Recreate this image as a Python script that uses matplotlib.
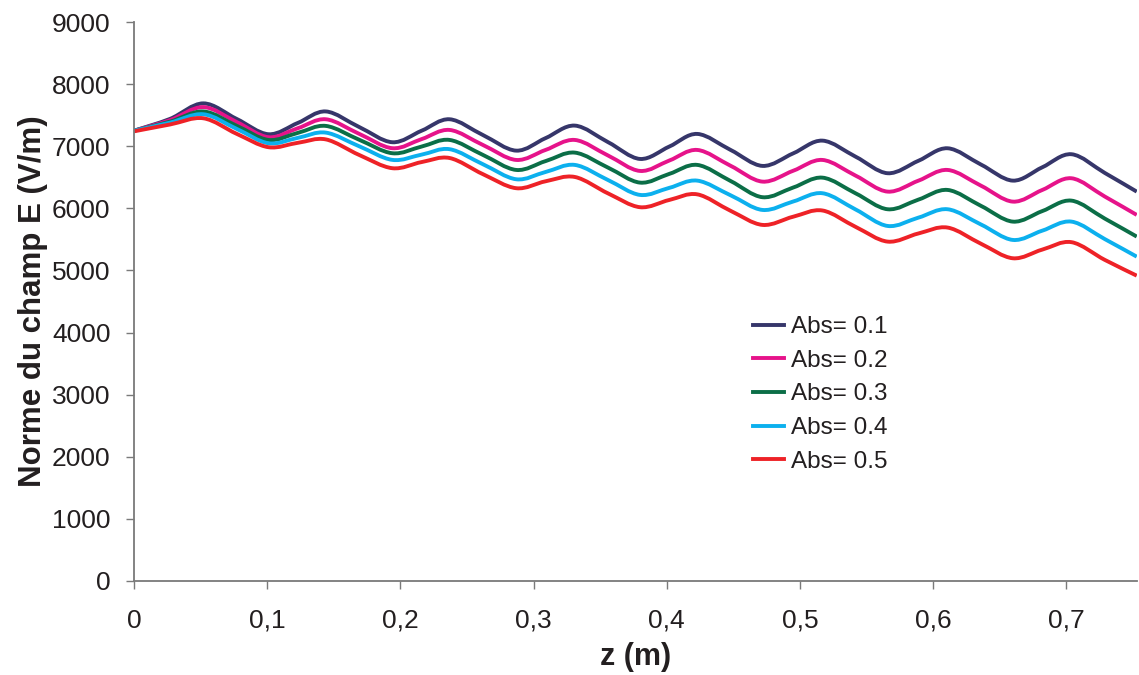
import matplotlib
matplotlib.use("Agg")
import matplotlib.pyplot as plt
from matplotlib.path import Path
from matplotlib.patches import PathPatch
from matplotlib.lines import Line2D

plt.rcParams["font.family"] = ["Liberation Sans", "DejaVu Sans"]

# --- data (z in m, |E| in V/m) ---
z = [0.000, 0.027, 0.052, 0.077, 0.101, 0.123, 0.144, 0.169, 0.194, 0.216,
     0.237, 0.262, 0.287, 0.309, 0.331, 0.356, 0.380, 0.402, 0.423, 0.448,
     0.472, 0.495, 0.517, 0.542, 0.566, 0.589, 0.611, 0.636, 0.660, 0.682,
     0.704, 0.729, 0.753]

abs_01 = [7250, 7440, 7690, 7440, 7193, 7375, 7560, 7310, 7064, 7250,
          7434, 7180, 6929, 7130, 7332, 7065, 6795, 6995, 7198, 6940,
          6683, 6885, 7090, 6830, 6565, 6765, 6967, 6705, 6446, 6660,
          6871, 6570, 6269]
abs_02 = [7250, 7420, 7630, 7390, 7145, 7290, 7434, 7200, 6968, 7115,
          7262, 7020, 6779, 6940, 7101, 6850, 6602, 6770, 6940, 6685,
          6430, 6605, 6779, 6525, 6269, 6445, 6618, 6365, 6108, 6295,
          6484, 6190, 5894]
abs_03 = [7250, 7395, 7560, 7330, 7101, 7215, 7327, 7105, 6887, 6995,
          7101, 6860, 6618, 6760, 6897, 6655, 6414, 6555, 6699, 6440,
          6179, 6335, 6494, 6240, 5985, 6140, 6296, 6040, 5786, 5955,
          6124, 5835, 5545]
abs_04 = [7250, 7380, 7515, 7280, 7048, 7135, 7219, 7000, 6780, 6865,
          6952, 6710, 6468, 6585, 6699, 6455, 6216, 6330, 6446, 6210,
          5974, 6110, 6243, 5980, 5716, 5850, 5985, 5740, 5491, 5640,
          5786, 5505, 5222]
abs_05 = [7240, 7350, 7450, 7200, 6984, 7055, 7110, 6860, 6646, 6745,
          6810, 6550, 6324, 6435, 6505, 6240, 6018, 6135, 6225, 5960,
          5733, 5865, 5965, 5700, 5464, 5595, 5690, 5430, 5196, 5335,
          5455, 5170, 4916]

series = [abs_01, abs_02, abs_03, abs_04, abs_05]
labels = ["Abs= 0.1", "Abs= 0.2", "Abs= 0.3", "Abs= 0.4", "Abs= 0.5"]
colors = ["#36366a", "#e6138a", "#0b6e47", "#0cb0ee", "#ee2227"]

x_ticks = [0, 0.1, 0.2, 0.3, 0.4, 0.5, 0.6, 0.7]
x_tick_labels = ["0", "0,1", "0,2", "0,3", "0,4", "0,5", "0,6", "0,7"]
y_ticks = [0, 1000, 2000, 3000, 4000, 5000, 6000, 7000, 8000, 9000]


def smooth_path(xs, ys):
    # Catmull-Rom through the points, drawn as cubic Beziers (like a smoothed Excel line)
    n = len(xs)
    verts = [(xs[0], ys[0])]
    codes = [Path.MOVETO]
    for i in range(n - 1):
        i0, i3 = max(i - 1, 0), min(i + 2, n - 1)
        c1 = (xs[i] + (xs[i + 1] - xs[i0]) / 6, ys[i] + (ys[i + 1] - ys[i0]) / 6)
        c2 = (xs[i + 1] - (xs[i3] - xs[i]) / 6, ys[i + 1] - (ys[i3] - ys[i]) / 6)
        verts += [c1, c2, (xs[i + 1], ys[i + 1])]
        codes += [Path.CURVE4] * 3
    return Path(verts, codes)


fig = plt.figure(figsize=(11.39, 6.75), dpi=100)
ax = fig.add_axes([0.1177, 0.1393, 0.8803, 0.8281])

handles = []
for ys, lab, col in zip(series, labels, colors):
    ax.add_patch(PathPatch(smooth_path(z, ys), fill=False, edgecolor=col,
                           linewidth=2.8, capstyle="butt", joinstyle="round"))
    handles.append(Line2D([], [], color=col, linewidth=2.8))

ax.set_xlim(0, 0.753)
ax.set_ylim(0, 9000)
ax.set_xticks(x_ticks)
ax.set_xticklabels(x_tick_labels)
ax.set_yticks(y_ticks)

for side in ["top", "right"]:
    ax.spines[side].set_visible(False)
for side in ["left", "bottom"]:
    ax.spines[side].set_color("#7a7a7a")
    ax.spines[side].set_linewidth(1.3)
ax.tick_params(axis="both", direction="out", length=6, width=1.0,
               color="#7a7a7a", labelsize=19, labelcolor="#231f20")
ax.tick_params(axis="y", pad=11)
ax.tick_params(axis="x", pad=14)

ax.set_xlabel("z (m)", fontsize=22, fontweight="bold", color="#231f20", labelpad=7)
ax.set_ylabel("Norme du champ E (V/m)", fontsize=22.5, fontweight="bold",
              color="#231f20", labelpad=3)

ax.legend(handles, labels, loc="upper left", bbox_to_anchor=(0.617, 0.474),
          frameon=False, fontsize=17.5, handlelength=1.3, handletextpad=0.28,
          labelspacing=0.48, borderpad=0, borderaxespad=0, labelcolor="#231f20")

fig.savefig("out.png", dpi=100)
